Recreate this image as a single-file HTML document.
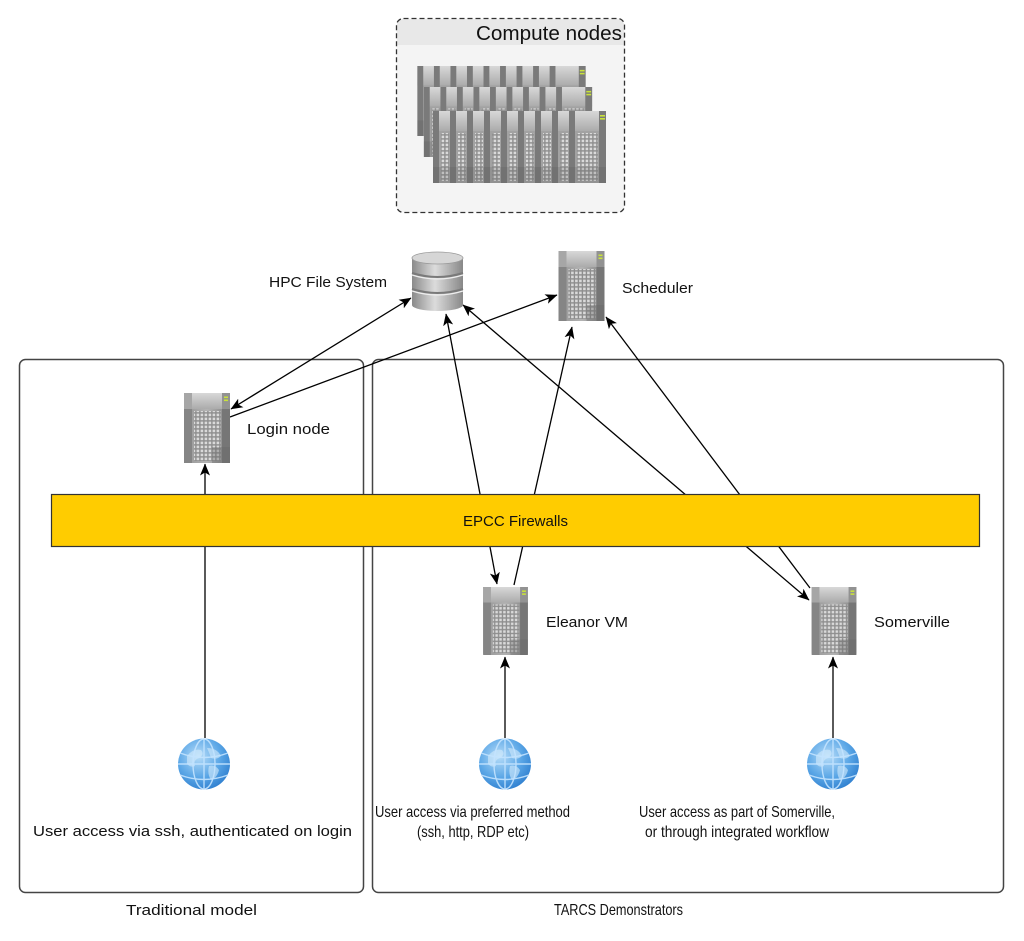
<!DOCTYPE html>
<html>
<head>
<meta charset="utf-8">
<style>
html,body{margin:0;padding:0;background:#fff;}
svg{display:block;}
text{font-family:"Liberation Sans","DejaVu Sans",sans-serif;fill:#111;}
text.nar{font-family:"Liberation Sans Narrow","Liberation Sans","DejaVu Sans",sans-serif;}
</style>
</head>
<body>
<svg width="1024" height="941" viewBox="0 0 1024 941" xmlns="http://www.w3.org/2000/svg">
<defs>
  <marker id="ah" viewBox="0 0 12 10" refX="11.5" refY="5" markerWidth="12" markerHeight="10" markerUnits="userSpaceOnUse" orient="auto-start-reverse">
    <path d="M0,0 L12,5 L0,10 L3,5 z" fill="#000"/>
  </marker>
  <linearGradient id="srvBody" x1="0" y1="0" x2="1" y2="0">
    <stop offset="0" stop-color="#939393"/>
    <stop offset="0.5" stop-color="#b3b3b3"/>
    <stop offset="1" stop-color="#828282"/>
  </linearGradient>
  <linearGradient id="srvTop" x1="0" y1="0" x2="0" y2="1">
    <stop offset="0" stop-color="#d8d8d8"/>
    <stop offset="1" stop-color="#ababab"/>
  </linearGradient>
  <linearGradient id="dbBody" x1="0" y1="0" x2="1" y2="0">
    <stop offset="0" stop-color="#8a8a8a"/>
    <stop offset="0.45" stop-color="#dcdcdc"/>
    <stop offset="1" stop-color="#888"/>
  </linearGradient>
  <radialGradient id="globeG" cx="0.4" cy="0.35" r="0.7">
    <stop offset="0" stop-color="#b6dcf8"/>
    <stop offset="0.6" stop-color="#5aa6e6"/>
    <stop offset="1" stop-color="#2f7fcf"/>
  </radialGradient>
  <pattern id="grid" x="0" y="0" width="4" height="4" patternUnits="userSpaceOnUse">
    <rect width="4" height="4" fill="#8e8e8e"/>
    <rect x="0.6" y="0.6" width="2.6" height="2.6" fill="#dadada"/>
  </pattern>
  <symbol id="server" viewBox="0 0 46 70">
    <rect x="0" y="0" width="46" height="70" rx="2" fill="url(#srvBody)"/>
    <rect x="0" y="0" width="8" height="70" fill="#858585"/>
    <rect x="38" y="0" width="8" height="70" fill="#767676"/>
    <rect x="0" y="0" width="46" height="16" rx="2" fill="url(#srvTop)"/>
    <rect x="0" y="0" width="8" height="16" fill="#a6a6a6"/>
    <rect x="38" y="0" width="8" height="16" fill="#929292"/>
    <rect x="40" y="3.5" width="4" height="1.6" fill="#c9e23a"/>
    <rect x="40" y="6.5" width="4" height="1.6" fill="#c9e23a"/>
    <rect x="10" y="18" width="27" height="50" fill="url(#grid)"/>
    <rect x="28" y="54" width="18" height="16" fill="#6a6a6a" opacity="0.4"/>
  </symbol>
  <symbol id="rack" viewBox="0 0 173 72">
    <rect x="0" y="0" width="173" height="72" fill="#a2a2a2"/>
    <rect x="0" y="0" width="173" height="20" fill="url(#srvTop)"/>
    <g fill="#7a7a7a">
      <rect x="0" y="0" width="6" height="72"/>
      <rect x="17" y="0" width="6" height="72"/>
      <rect x="34" y="0" width="6" height="72"/>
      <rect x="51" y="0" width="6" height="72"/>
      <rect x="68" y="0" width="6" height="72"/>
      <rect x="85" y="0" width="6" height="72"/>
      <rect x="102" y="0" width="6" height="72"/>
      <rect x="119" y="0" width="6" height="72"/>
      <rect x="136" y="0" width="6" height="72"/>
      <rect x="166" y="0" width="7" height="72"/>
    </g>
    <g fill="url(#grid)">
      <rect x="8" y="22" width="8" height="48"/>
      <rect x="25" y="22" width="8" height="48"/>
      <rect x="42" y="22" width="8" height="48"/>
      <rect x="59" y="22" width="8" height="48"/>
      <rect x="76" y="22" width="8" height="48"/>
      <rect x="93" y="22" width="8" height="48"/>
      <rect x="110" y="22" width="8" height="48"/>
      <rect x="127" y="22" width="8" height="48"/>
      <rect x="144" y="22" width="21" height="48"/>
    </g>
    <rect x="167" y="4" width="5" height="1.6" fill="#c9e23a"/>
    <rect x="167" y="7" width="5" height="1.6" fill="#c9e23a"/>
    <rect x="0" y="56" width="173" height="16" fill="#555" opacity="0.2"/>
  </symbol>
  <symbol id="globe" viewBox="0 0 54 52">
    <ellipse cx="27" cy="26" rx="26" ry="25.5" fill="url(#globeG)"/>
    <path d="M10,18 q6,-8 14,-6 q4,4 -2,8 q-6,2 -4,8 q-4,2 -8,-2 z M30,10 q10,0 14,8 q-4,4 -10,2 q-2,-6 -4,-10 z M32,28 q6,-2 10,4 q-2,8 -8,10 q-4,-6 -2,-14 z" fill="#d3ebfb" opacity="0.6"/>
    <g fill="none" stroke="#c4e4ff" stroke-width="1.4" opacity="0.9">
      <ellipse cx="27" cy="26" rx="11" ry="25"/>
      <line x1="27" y1="1" x2="27" y2="51"/>
      <line x1="1" y1="26" x2="53" y2="26"/>
      <path d="M3,15 Q27,24 51,15"/>
      <path d="M3,37 Q27,46 51,37"/>
    </g>
  </symbol>
</defs>

<!-- Compute nodes group -->
<rect x="396.5" y="18.5" width="228" height="194" rx="7" fill="#f4f4f4"/>
<path d="M397.2,45 L397.2,25 Q397.2,19.2 404,19.2 L617,19.2 Q623.8,19.2 623.8,25 L623.8,45 Z" fill="#e8e8e8"/>
<rect x="396.5" y="18.5" width="228" height="194" rx="7" fill="none" stroke="#333" stroke-width="1.3" stroke-dasharray="5,3"/>
<text x="476" y="40" font-size="20" textLength="146" lengthAdjust="spacingAndGlyphs">Compute nodes</text>
<use href="#rack" x="415" y="66" width="173" height="70"/>
<use href="#rack" x="423" y="87" width="170" height="70"/>
<use href="#rack" x="433" y="111" width="173" height="72"/>

<!-- Frames -->
<rect x="19.5" y="359.5" width="344" height="533" rx="6" fill="none" stroke="#444" stroke-width="1.5"/>
<rect x="372.5" y="359.5" width="631" height="533" rx="6" fill="none" stroke="#444" stroke-width="1.5"/>

<!-- Connectors (behind firewall) -->
<g stroke="#000" stroke-width="1.3" fill="none">
  <line x1="231" y1="409" x2="411" y2="298" marker-start="url(#ah)" marker-end="url(#ah)"/>
  <line x1="230" y1="417" x2="557" y2="295" marker-end="url(#ah)"/>
  <line x1="446" y1="314" x2="497" y2="584" marker-start="url(#ah)" marker-end="url(#ah)"/>
  <line x1="514" y1="585" x2="572" y2="327" marker-end="url(#ah)"/>
  <line x1="463" y1="305" x2="809" y2="600" marker-start="url(#ah)" marker-end="url(#ah)"/>
  <line x1="810" y1="588" x2="606" y2="317" marker-end="url(#ah)"/>
  <line x1="205" y1="738" x2="205" y2="464" marker-end="url(#ah)"/>
  <line x1="505" y1="738" x2="505" y2="657" marker-end="url(#ah)"/>
  <line x1="833" y1="738" x2="833" y2="657" marker-end="url(#ah)"/>
</g>

<!-- Firewall -->
<rect x="51.5" y="494.5" width="928" height="52" fill="#ffcc00" stroke="#333" stroke-width="1.2"/>
<text x="463" y="526" font-size="15" textLength="105" lengthAdjust="spacingAndGlyphs">EPCC Firewalls</text>

<!-- HPC File System DB -->
<g>
  <rect x="412" y="258" width="51" height="47" fill="url(#dbBody)"/>
  <ellipse cx="437.5" cy="305" rx="25.5" ry="6" fill="url(#dbBody)"/>
  <ellipse cx="437.5" cy="258" rx="25.5" ry="6" fill="#d6d6d6" stroke="#9a9a9a" stroke-width="0.8"/>
  <path d="M412,273 Q437.5,281 463,273" stroke="#7a7a7a" stroke-width="2" fill="none"/>
  <path d="M412,275 Q437.5,283 463,275" stroke="#eee" stroke-width="1.2" fill="none"/>
  <path d="M412,289 Q437.5,297 463,289" stroke="#7a7a7a" stroke-width="2" fill="none"/>
  <path d="M412,291 Q437.5,299 463,291" stroke="#eee" stroke-width="1.2" fill="none"/>
</g>
<text x="269" y="287" font-size="15" textLength="118" lengthAdjust="spacingAndGlyphs">HPC File System</text>

<!-- Servers -->
<use href="#server" x="558" y="251" width="47" height="70"/>
<text x="622" y="293" font-size="15" textLength="71" lengthAdjust="spacingAndGlyphs">Scheduler</text>

<use href="#server" x="184" y="393" width="46" height="70"/>
<text x="247" y="434" font-size="15" textLength="83" lengthAdjust="spacingAndGlyphs">Login node</text>

<use href="#server" x="483" y="587" width="45" height="68"/>
<text x="546" y="627" font-size="15" textLength="82" lengthAdjust="spacingAndGlyphs">Eleanor VM</text>

<use href="#server" x="811" y="587" width="46" height="68"/>
<text x="874" y="627" font-size="15" textLength="76" lengthAdjust="spacingAndGlyphs">Somerville</text>

<!-- Globes -->
<use href="#globe" x="177" y="738" width="54" height="52"/>
<use href="#globe" x="478" y="738" width="54" height="52"/>
<use href="#globe" x="806" y="738" width="54" height="52"/>

<!-- Bottom labels -->
<text x="33" y="836" font-size="15" textLength="319" lengthAdjust="spacingAndGlyphs">User access via ssh, authenticated on login</text>
<text class="nar" x="375" y="817" font-size="16" textLength="195" lengthAdjust="spacingAndGlyphs">User access via preferred method</text>
<text class="nar" x="417" y="837" font-size="16" textLength="112" lengthAdjust="spacingAndGlyphs">(ssh, http, RDP etc)</text>
<text class="nar" x="639" y="817" font-size="16" textLength="196" lengthAdjust="spacingAndGlyphs">User access as part of Somerville,</text>
<text class="nar" x="645" y="837" font-size="16" textLength="184" lengthAdjust="spacingAndGlyphs">or through integrated workflow</text>

<text x="126" y="915" font-size="15" textLength="131" lengthAdjust="spacingAndGlyphs">Traditional model</text>
<text class="nar" x="554" y="915" font-size="16" textLength="129" lengthAdjust="spacingAndGlyphs">TARCS Demonstrators</text>
</svg>
</body>
</html>
